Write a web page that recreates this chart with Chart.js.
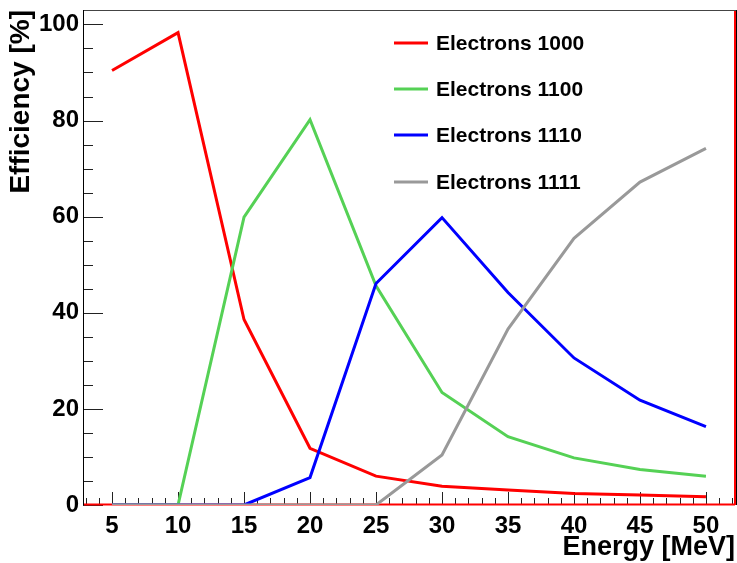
<!DOCTYPE html>
<html>
<head>
<meta charset="utf-8">
<script src="https://cdn.jsdelivr.net/npm/chart.js@4.4.0/dist/chart.umd.min.js"></script>
<style>
  html, body { margin: 0; padding: 0; background: #fff; }
  #contenedor { width: 737px; height: 563px; }
</style>
</head>
<body>
<div id="contenedor"><canvas id="chartEficiencia"></canvas></div>
<script>
// Energía del haz (MeV) y eficiencia (%) por configuración
const energias = [5, 10, 15, 20, 25, 30, 35, 40, 45, 50];
const ef1000 = [90.4, 98.3, 38.6, 11.8, 6.0, 3.9, 3.1, 2.4, 2.1, 1.7];
const ef1100 = [0, 0, 59.9, 80.2, 45.6, 23.4, 14.2, 9.8, 7.4, 6.0];
const ef1110 = [0, 0, 0, 5.7, 46.1, 59.8, 44.2, 30.6, 21.8, 16.3];
const ef1111 = [0, 0, 0, 0, 0, 10.4, 36.6, 55.5, 67.2, 74.2];
const nombres = ['Electrons 1000', 'Electrons 1100', 'Electrons 1110', 'Electrons 1111'];
const colores = ['#ff0000', '#55d155', '#0000ff', '#999999'];

const ticksX = [5, 10, 15, 20, 25, 30, 35, 40, 45, 50];
const ticksY = [0, 5, 10, 15, 20, 25, 30, 35, 40, 45, 50, 55, 60, 65, 70, 75, 80, 85, 90, 95, 100];

const FUENTE = "'Liberation Sans', Arial, Helvetica, sans-serif";

const series = [ef1000, ef1100, ef1110, ef1111];
const datasets = series.map((serie, i) => ({
    label: nombres[i],
    data: serie.map((v, j) => ({ x: energias[j], y: v })),
    borderColor: colores[i],
    backgroundColor: colores[i],
    borderWidth: 3,
    pointRadius: 0,
    tension: 0,
    fill: false,
    // el último grupo queda encima
    order: series.length - i
}));

// Marco estilo ROOT con marcas hacia dentro
const marcoPlugin = {
    id: 'marco',
    beforeDatasetsDraw(chart) {
        const { ctx, chartArea: a, scales: { x, y } } = chart;
        ctx.save();
        ctx.lineWidth = 1;
        ctx.strokeStyle = '#222';

        // marcas del eje Y
        ticksY.forEach(v => {
            const py = Math.round(y.getPixelForValue(v)) + 0.5;
            const largo = v % 20 === 0 ? 20 : 10;
            ctx.beginPath();
            ctx.moveTo(a.left, py);
            ctx.lineTo(a.left + largo, py);
            ctx.stroke();
        });

        // marcas del eje X (menores cada 1 MeV)
        for (let v = Math.ceil(x.min); v <= Math.floor(x.max); v++) {
            const px = Math.round(x.getPixelForValue(v)) + 0.5;
            const largo = v % 5 === 0 ? 13 : 7;
            ctx.beginPath();
            ctx.moveTo(px, a.bottom);
            ctx.lineTo(px, a.bottom - largo);
            ctx.stroke();
        }

        // bordes
        ctx.strokeStyle = '#444';
        ctx.beginPath();
        ctx.moveTo(a.left, a.top + 0.5);
        ctx.lineTo(a.right + 2, a.top + 0.5);
        ctx.stroke();

        ctx.strokeStyle = '#000';
        ctx.beginPath();
        ctx.moveTo(a.left + 0.5, a.top);
        ctx.lineTo(a.left + 0.5, a.bottom);
        ctx.moveTo(a.right + 1.5, a.top);
        ctx.lineTo(a.right + 1.5, a.bottom);
        ctx.stroke();

        ctx.strokeStyle = '#ff0000';
        ctx.lineWidth = 2;
        ctx.beginPath();
        ctx.moveTo(a.right, a.top + 1);
        ctx.lineTo(a.right, a.bottom);
        ctx.moveTo(a.left + 1, a.bottom - 0.5);
        ctx.lineTo(a.right, a.bottom - 0.5);
        ctx.stroke();
        ctx.restore();
    }
};

// Leyenda dibujada a mano dentro del área
const leyendaPlugin = {
    id: 'leyenda',
    afterDraw(chart) {
        const { ctx } = chart;
        const filas = [43, 89, 135, 182];
        ctx.save();
        ctx.font = 'bold 21px ' + FUENTE;
        ctx.textBaseline = 'middle';
        ctx.fillStyle = '#000';
        chart.data.datasets.forEach((ds, i) => {
            ctx.strokeStyle = ds.borderColor;
            ctx.lineWidth = 3;
            ctx.beginPath();
            ctx.moveTo(394, filas[i]);
            ctx.lineTo(428, filas[i]);
            ctx.stroke();
            ctx.fillText(ds.label, 436, filas[i] + 1);
        });
        ctx.restore();
    }
};

new Chart(document.getElementById('chartEficiencia'), {
    type: 'line',
    data: { datasets },
    options: {
        responsive: true,
        maintainAspectRatio: false,
        animation: false,
        layout: { padding: { left: 0, right: 2, top: 10, bottom: 0 } },
        plugins: {
            legend: { display: false },
            tooltip: { enabled: false }
        },
        scales: {
            x: {
                type: 'linear',
                min: 2.8,
                max: 52.2,
                afterBuildTicks: s => { s.ticks = ticksX.map(v => ({ value: v })); },
                afterFit: s => { s.height = 58; s.paddingLeft = 0; s.paddingRight = 0; },
                grid: { display: false, drawTicks: false },
                border: { display: false },
                ticks: {
                    padding: 7,
                    color: '#000',
                    font: { family: FUENTE, size: 24, weight: 'bold' },
                    maxRotation: 0
                },
                title: {
                    display: true,
                    text: 'Energy [MeV]',
                    align: 'end',
                    color: '#000',
                    font: { family: FUENTE, size: 27, weight: 'bold', lineHeight: 1.2 },
                    padding: { top: 0, bottom: -1 }
                }
            },
            y: {
                min: 0,
                max: 103,
                afterBuildTicks: s => { s.ticks = ticksY.map(v => ({ value: v })); },
                afterFit: s => { s.width = 83; s.paddingTop = 0; s.paddingBottom = 0; },
                grid: { display: false, drawTicks: false },
                border: { display: false },
                ticks: {
                    padding: 4,
                    color: '#000',
                    font: { family: FUENTE, size: 24, weight: 'bold' },
                    callback: v => (v % 20 === 0 ? v : '')
                },
                title: {
                    display: true,
                    text: 'Efficiency [%]',
                    align: 'end',
                    color: '#000',
                    font: { family: FUENTE, size: 28, weight: 'bold', lineHeight: 1.2 },
                    padding: { top: 4, bottom: 0 }
                }
            }
        }
    },
    plugins: [marcoPlugin, leyendaPlugin]
});
</script>
</body>
</html>
